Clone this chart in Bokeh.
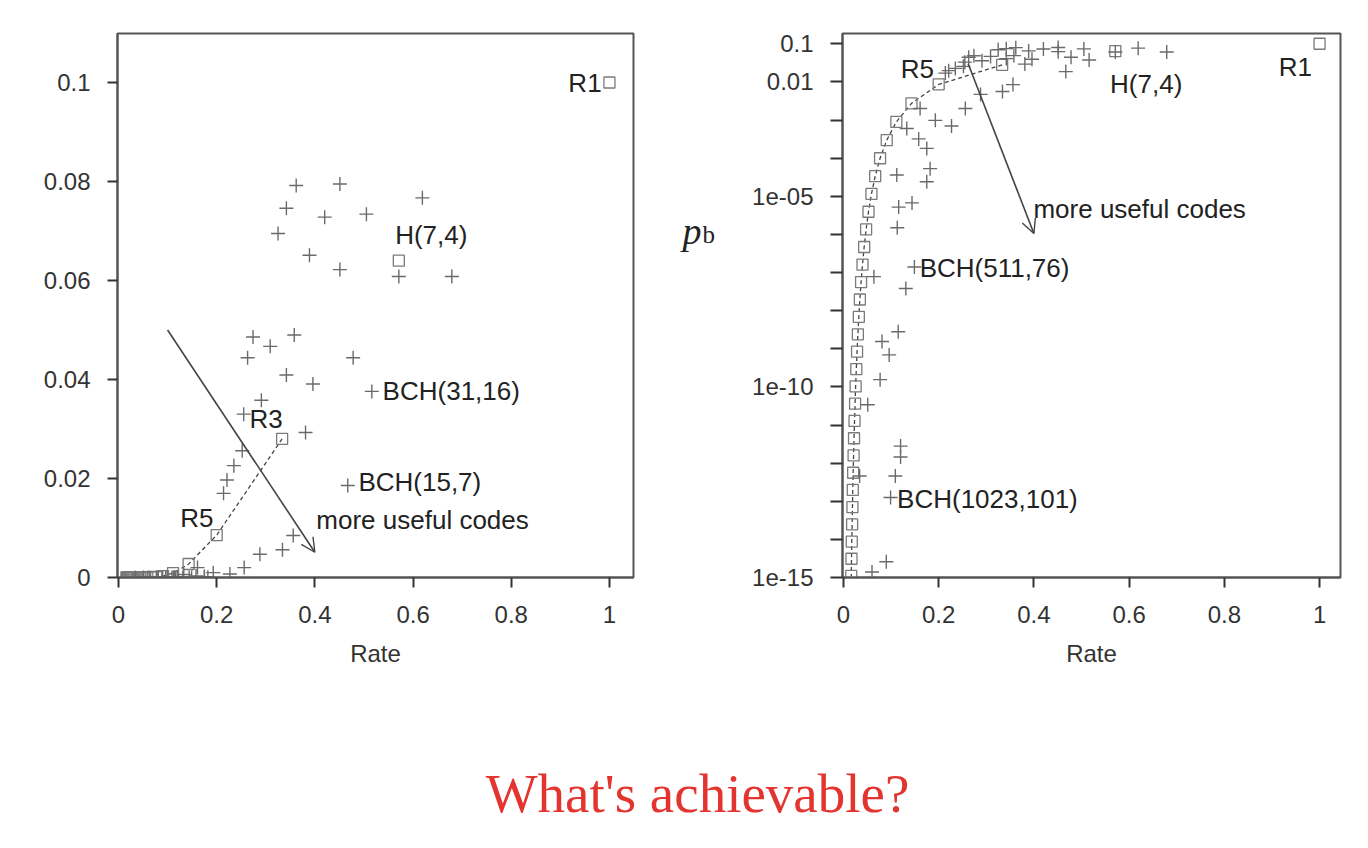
from bokeh.plotting import figure
from bokeh.models import (Label, Arrow, OpenHead, FixedTicker, Range1d,
                          CustomJSTickFormatter)
from bokeh.layouts import column, row
from bokeh.embed import file_html
from bokeh.resources import INLINE

# ---------------- data ----------------
# repetition codes R1, R3, R5, ... R61
rep_names = ["R1", "R3", "R5", "R7", "R9", "R11", "R13", "R15", "R17", "R19", "R21",
             "R23", "R25", "R27", "R29", "R31", "R33", "R35", "R37", "R39", "R41",
             "R43", "R45", "R47", "R49", "R51", "R53", "R55", "R57", "R59", "R61"]
rep_rate = [1.0, 0.3333, 0.2, 0.1429, 0.1111, 0.0909, 0.0769, 0.0667, 0.0588, 0.0526,
            0.0476, 0.0435, 0.04, 0.0370, 0.0345, 0.0323, 0.0303, 0.0286, 0.0270,
            0.0256, 0.0244, 0.0233, 0.0222, 0.0213, 0.0204, 0.0196, 0.0189, 0.0182,
            0.0175, 0.0169, 0.0164]
rep_pb = [0.1, 0.028, 0.00856, 0.00273, 8.91e-4, 2.96e-4, 9.93e-5, 3.36e-5, 1.15e-5,
          3.93e-6, 1.35e-6, 4.67e-7, 1.62e-7, 5.62e-8, 1.96e-8, 6.84e-9, 2.39e-9,
          8.38e-10, 2.94e-10, 1.03e-10, 3.63e-11, 1.28e-11, 4.50e-12, 1.59e-12,
          5.60e-13, 1.98e-13, 6.99e-14, 2.47e-14, 8.75e-15, 3.10e-15, 1.10e-15]

# Hamming code H(7,4)
ham_rate = [0.571]
ham_pb = [0.064]

# BCH codes (crosses)
bch_rate = [0.362, 0.451, 0.619, 0.342, 0.420, 0.505, 0.325, 0.389, 0.451, 0.571,
            0.679, 0.274, 0.358, 0.309, 0.263, 0.478, 0.342, 0.396, 0.516, 0.291,
            0.255, 0.381, 0.252, 0.235, 0.221, 0.214, 0.467, 0.356, 0.334, 0.288,
            0.256, 0.227, 0.193, 0.161, 0.133, 0.158, 0.175, 0.182, 0.175, 0.112,
            0.116, 0.144, 0.113, 0.149, 0.064, 0.131, 0.115, 0.081, 0.096, 0.077,
            0.051, 0.120, 0.120, 0.109, 0.034, 0.099, 0.090, 0.060]
bch_pb = [0.0792, 0.0795, 0.0767, 0.0746, 0.0728, 0.0734, 0.0695, 0.0651, 0.0622, 0.0608,
          0.0608, 0.0486, 0.0490, 0.0467, 0.0444, 0.0444, 0.0409, 0.0391, 0.0376, 0.0358,
          0.0330, 0.0293, 0.0256, 0.0226, 0.0197, 0.0170, 0.0186, 0.0085, 0.0056, 0.0047,
          0.0020, 0.0007, 9.8e-4, 2.0e-3, 6.0e-4, 3.2e-4, 1.8e-4, 5.3e-5, 2.4e-5, 3.6e-5,
          5.2e-6, 6.7e-6, 1.5e-6, 1.4e-7, 7.8e-8, 3.8e-8, 2.8e-9, 1.55e-9, 6.9e-10, 1.55e-10,
          3.4e-11, 2.8e-12, 1.45e-12, 4.6e-13, 4.6e-13, 1.26e-13, 2.6e-15, 1.4e-15]

x_ticks = [0, 0.2, 0.4, 0.6, 0.8, 1.0]
x_tick_labels = ["0", "0.2", "0.4", "0.6", "0.8", "1"]
left_y_ticks = [0, 0.02, 0.04, 0.06, 0.08, 0.1]
left_y_tick_labels = ["0", "0.02", "0.04", "0.06", "0.08", "0.1"]
right_y_ticks = [1e-15, 1e-14, 1e-13, 1e-12, 1e-11, 1e-10, 1e-09, 1e-08, 1e-07,
                 1e-06, 1e-05, 1e-04, 1e-03, 1e-02, 1e-01]
right_y_tick_labels = ["1e-15", "", "", "", "", "1e-10", "", "", "", "",
                       "1e-05", "", "", "0.01", "0.1"]

x_label = "Rate"
y_label_main = "p"
y_label_sub = "b"
title_text = "What's achievable?"
arrow_text = "more useful codes"

# annotations: (text, x, y, align)
left_notes = [("R1", 0.984, 0.1, "right"), ("H(7,4)", 0.5635, 0.0692, "left"),
              ("BCH(31,16)", 0.538, 0.0376, "left"), ("R3", 0.2667, 0.0321, "left"),
              ("BCH(15,7)", 0.4887, 0.0192, "left"), ("R5", 0.1258, 0.0120, "left"),
              (arrow_text, 0.403, 0.0117, "left")]
right_notes = [("R5", 0.1204, 0.0221, "left"), ("H(7,4)", 0.560, 0.00895, "left"),
               ("R1", 0.984, 0.0245, "right"), (arrow_text, 0.399, 4.75e-6, "left"),
               ("BCH(511,76)", 0.16, 1.35e-7, "left"),
               ("BCH(1023,101)", 0.1127, 1.12e-13, "left")]
left_arrow = (0.1, 0.05, 0.4, 0.0051)
right_arrow = (0.262, 0.03, 0.4, 1.05e-6)

# ---------------- styling helpers ----------------
FONT = "Liberation Sans"
SERIF = "Liberation Serif"


def make_formatter(vals, labs, log):
    code = """
    const a = LOG ? Math.log10(tick) : tick;
    for (let i = 0; i < vals.length; i++) {
        const b = LOG ? Math.log10(vals[i]) : vals[i];
        if (Math.abs(a - b) < 1e-6) { return labs[i]; }
    }
    return "";
    """.replace("LOG", "true" if log else "false")
    return CustomJSTickFormatter(args=dict(vals=vals, labs=labs), code=code)


def style(p):
    p.outline_line_color = "#555555"
    p.outline_line_width = 2
    p.grid.visible = False
    p.background_fill_color = "white"
    p.border_fill_color = "white"
    for ax in (p.xaxis[0], p.yaxis[0]):
        ax.axis_line_color = "#555555"
        ax.axis_line_width = 2
        ax.major_tick_line_color = "#333333"
        ax.major_tick_line_width = 2
        ax.major_tick_in = 0
        ax.major_tick_out = 10
        ax.minor_tick_line_color = None
        ax.major_label_text_font = FONT
        ax.major_label_text_font_size = "24px"
        ax.major_label_text_color = "#333333"
        ax.axis_label_text_font = FONT
        ax.axis_label_text_font_size = "24px"
        ax.axis_label_text_font_style = "normal"
        ax.axis_label_text_color = "#333333"
    p.xaxis[0].major_label_standoff = 18
    p.yaxis[0].major_label_standoff = 17
    p.xaxis[0].axis_label = x_label
    p.xaxis[0].axis_label_standoff = 14
    p.xaxis[0].ticker = FixedTicker(ticks=x_ticks, minor_ticks=[])
    p.xaxis[0].formatter = make_formatter(x_ticks, x_tick_labels, False)


def draw_data(p):
    p.line(rep_rate[1:], rep_pb[1:], line_color="#444444", line_width=1.3, line_dash="4 3")
    p.scatter(rep_rate, rep_pb, marker="square", size=11, fill_color=None,
              line_color="#7a7a7a", line_width=1.3)
    p.scatter(ham_rate, ham_pb, marker="square", size=11, fill_color=None,
              line_color="#7a7a7a", line_width=1.3)
    p.scatter(bch_rate, bch_pb, marker="cross", size=14, line_color="#6a6a6a",
              line_width=1.4)


def add_notes(p, notes, arrow):
    x0, y0, x1, y1 = arrow
    p.add_layout(Arrow(x_start=x0, y_start=y0, x_end=x1, y_end=y1,
                       line_color="#444444", line_width=1.6,
                       end=OpenHead(size=14, line_color="#444444", line_width=1.4)))
    for t, x, y, al in notes:
        p.add_layout(Label(x=x, y=y, text=t, text_align=al, text_baseline="middle",
                           text_font=FONT, text_font_size="26px", text_color="#222222"))


# ---------------- left panel (linear) ----------------
left = figure(frame_width=516, frame_height=544,
              x_range=Range1d(-0.002, 1.049), y_range=Range1d(0, 0.1099),
              min_border_left=117, min_border_right=37, min_border_top=33,
              min_border_bottom=123, toolbar_location=None, output_backend="svg")
style(left)
left.yaxis[0].ticker = FixedTicker(ticks=left_y_ticks, minor_ticks=[])
left.yaxis[0].formatter = make_formatter(left_y_ticks, left_y_tick_labels, False)
draw_data(left)
add_notes(left, left_notes, left_arrow)

# ---------------- narrow strip holding the y label p_b ----------------
mid = figure(width=60, height=700, x_range=Range1d(670, 730), y_range=Range1d(0, 700),
             toolbar_location=None, output_backend="svg", min_border=0,
             x_axis_location=None, y_axis_location=None)
mid.outline_line_color = None
mid.grid.visible = False
mid.add_layout(Label(x=682, y=446, text=y_label_main, text_align="left",
                     text_baseline="middle", text_font=SERIF, text_font_style="italic",
                     text_font_size="38px", text_color="#222222"))
mid.add_layout(Label(x=702, y=441, text=y_label_sub, text_align="left",
                     text_baseline="middle", text_font=SERIF,
                     text_font_size="25px", text_color="#222222"))

# ---------------- right panel (log) ----------------
right = figure(frame_width=498, frame_height=544, y_axis_type="log",
               x_range=Range1d(-0.002, 1.044), y_range=Range1d(1e-15, 0.186),
               min_border_left=112, min_border_right=28, min_border_top=33,
               min_border_bottom=123, toolbar_location=None, output_backend="svg")
style(right)
right.yaxis[0].ticker = FixedTicker(ticks=right_y_ticks, minor_ticks=[])
right.yaxis[0].formatter = make_formatter(right_y_ticks, right_y_tick_labels, True)
right.yaxis[0].major_tick_out = 12
draw_data(right)
add_notes(right, right_notes, right_arrow)

# ---------------- title ----------------
tf = figure(width=1368, height=148, x_range=Range1d(0, 1368), y_range=Range1d(0, 148),
            toolbar_location=None, output_backend="svg", min_border=0,
            x_axis_location=None, y_axis_location=None)
tf.outline_line_color = None
tf.grid.visible = False
tf.add_layout(Label(x=697, y=55, text=title_text, text_align="center",
                    text_baseline="alphabetic", text_font=SERIF, text_font_size="55px",
                    text_color="#e3342f"))

layout = column(row(left, mid, right), tf)
open("out.html", "w").write(file_html(layout, INLINE))
